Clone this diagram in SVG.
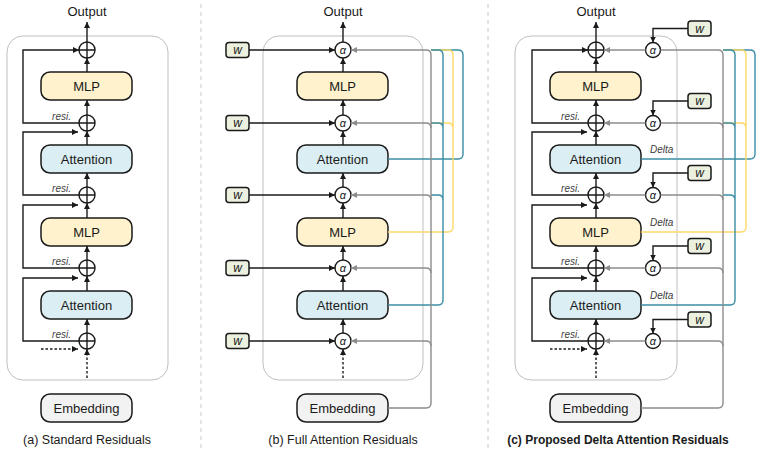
<svg xmlns="http://www.w3.org/2000/svg" width="763" height="454" viewBox="0 0 763 454">
<style>
text{font-family:"Liberation Sans",Arial,sans-serif;fill:#1a1a1a}
.lbl{font-size:13px;text-anchor:middle}
.cap{font-size:12.5px;text-anchor:middle}
.capb{font-size:12px;font-weight:bold;text-anchor:middle}
.it{font-size:10px;font-style:italic;fill:#404040}
.itr{font-size:10px;font-style:italic;fill:#404040;text-anchor:end}
.al{font-size:11px;font-style:italic;text-anchor:middle}
.wt{font-size:12px;font-style:italic;text-anchor:middle}
.frame{fill:none;stroke:#bfbfbf;stroke-width:1}
.mlp{fill:#fff2cc;stroke:#1a1a1a;stroke-width:1.5}
.att{fill:#daeef3;stroke:#1a1a1a;stroke-width:1.5}
.emb{fill:#f2f2f2;stroke:#1a1a1a;stroke-width:1.5}
.wb{fill:#ebf1de;stroke:#1a1a1a;stroke-width:1.5}
.node{fill:#fff;stroke:#1a1a1a;stroke-width:1.4}
.blk{fill:none;stroke:#1a1a1a;stroke-width:1.4}
.dash{fill:none;stroke:#1a1a1a;stroke-width:1.4;stroke-dasharray:2.5 2}
.gry{fill:none;stroke:#8c8c8c;stroke-width:1.4}
.teal{fill:none;stroke:#3a8ea5;stroke-width:1.4}
.yel{fill:none;stroke:#ffd966;stroke-width:1.4}
.div{stroke:#c8c8c8;stroke-width:1;stroke-dasharray:4 4}
</style>
<defs>
<marker id="ab" markerUnits="userSpaceOnUse" markerWidth="7" markerHeight="7" refX="6" refY="3" orient="auto"><path d="M0,0 L6,3 L0,6 z" fill="#1a1a1a"/></marker>
<marker id="ag" markerUnits="userSpaceOnUse" markerWidth="7" markerHeight="7" refX="6" refY="3" orient="auto"><path d="M0,0 L6,3 L0,6 z" fill="#8c8c8c"/></marker>
</defs>

<line class="div" x1="201" y1="4" x2="201" y2="450"/>
<line class="div" x1="488" y1="4" x2="488" y2="450"/>

<!-- ===== Panel (a) ===== -->
<rect class="frame" x="7" y="36" width="161" height="344" rx="16"/>
<text class="lbl" x="87" y="16">Output</text>
<g id="a-mlp1"><rect class="mlp" x="41" y="72" width="91" height="28" rx="9"/><text class="lbl" x="86.5" y="90.5">MLP</text></g>
<g id="a-att1"><rect class="att" x="41" y="145" width="91" height="28" rx="9"/><text class="lbl" x="86.5" y="163.5">Attention</text></g>
<g id="a-mlp2"><rect class="mlp" x="41" y="218" width="91" height="28" rx="9"/><text class="lbl" x="86.5" y="236.5">MLP</text></g>
<g id="a-att2"><rect class="att" x="41" y="291" width="91" height="28" rx="9"/><text class="lbl" x="86.5" y="309.5">Attention</text></g>
<g id="a-emb"><rect class="emb" x="41" y="394" width="91" height="28" rx="9"/><text class="lbl" x="86.5" y="412.5">Embedding</text></g>
<g id="a-add1"><circle class="node" cx="87" cy="50" r="8"/><path class="blk" d="M79,50 H95 M87,42 V58"/></g>
<g id="a-add2"><circle class="node" cx="87" cy="123" r="8"/><path class="blk" d="M79,123 H95 M87,115 V131"/></g>
<g id="a-add3"><circle class="node" cx="87" cy="195" r="8"/><path class="blk" d="M79,195 H95 M87,187 V203"/></g>
<g id="a-add4"><circle class="node" cx="87" cy="268" r="8"/><path class="blk" d="M79,268 H95 M87,260 V276"/></g>
<g id="a-add5"><circle class="node" cx="87" cy="341" r="8"/><path class="blk" d="M79,341 H95 M87,333 V349"/></g>
<g id="a-connectors">
<path class="blk" marker-end="url(#ab)" d="M87,42 V22"/>
<path class="blk" marker-end="url(#ab)" d="M87,72 V58"/>
<path class="blk" marker-end="url(#ab)" d="M87,115 V100"/>
<path class="blk" marker-end="url(#ab)" d="M87,145 V131"/>
<path class="blk" marker-end="url(#ab)" d="M87,187 V173"/>
<path class="blk" marker-end="url(#ab)" d="M87,218 V203"/>
<path class="blk" marker-end="url(#ab)" d="M87,260 V246"/>
<path class="blk" marker-end="url(#ab)" d="M87,291 V276"/>
<path class="blk" marker-end="url(#ab)" d="M87,333 V319"/>
<path class="dash" marker-end="url(#ab)" d="M87,378 V349"/>
<path class="dash" marker-end="url(#ab)" d="M41,349 H78"/>
<path class="blk" marker-end="url(#ab)" d="M79,123 H23 V50 H79"/>
<path class="blk" marker-end="url(#ab)" d="M79,195 H23 V132 H78"/>
<path class="blk" marker-end="url(#ab)" d="M79,268 H23 V205 H78"/>
<path class="blk" marker-end="url(#ab)" d="M79,341 H23 V278 H78"/>
<text class="itr" x="71" y="120">resi.</text>
<text class="itr" x="71" y="192">resi.</text>
<text class="itr" x="71" y="265">resi.</text>
<text class="itr" x="71" y="338">resi.</text>
</g>
<text class="cap" x="87" y="444">(a) Standard Residuals</text>

<!-- ===== Panel (b) ===== -->
<rect class="frame" x="263" y="36" width="160" height="344" rx="16"/>
<text class="lbl" x="343" y="16">Output</text>
<g id="b-mlp1"><rect class="mlp" x="297" y="72" width="91" height="28" rx="9"/><text class="lbl" x="342.5" y="90.5">MLP</text></g>
<g id="b-att1"><rect class="att" x="297" y="145" width="91" height="28" rx="9"/><text class="lbl" x="342.5" y="163.5">Attention</text></g>
<g id="b-mlp2"><rect class="mlp" x="297" y="218" width="91" height="28" rx="9"/><text class="lbl" x="342.5" y="236.5">MLP</text></g>
<g id="b-att2"><rect class="att" x="297" y="291" width="91" height="28" rx="9"/><text class="lbl" x="342.5" y="309.5">Attention</text></g>
<g id="b-emb"><rect class="emb" x="297" y="394" width="91" height="28" rx="9"/><text class="lbl" x="342.5" y="412.5">Embedding</text></g>
<g id="b-alpha1"><circle class="node" cx="343" cy="50" r="8"/><text class="al" x="343" y="54">α</text></g>
<g id="b-alpha2"><circle class="node" cx="343" cy="123" r="8"/><text class="al" x="343" y="127">α</text></g>
<g id="b-alpha3"><circle class="node" cx="343" cy="195" r="8"/><text class="al" x="343" y="199">α</text></g>
<g id="b-alpha4"><circle class="node" cx="343" cy="268" r="8"/><text class="al" x="343" y="272">α</text></g>
<g id="b-alpha5"><circle class="node" cx="343" cy="341" r="8"/><text class="al" x="343" y="345">α</text></g>
<g id="b-w1"><rect class="wb" x="226" y="42.5" width="23" height="15" rx="3"/><text class="wt" x="237.5" y="54">w</text></g>
<g id="b-w2"><rect class="wb" x="226" y="115.5" width="23" height="15" rx="3"/><text class="wt" x="237.5" y="127">w</text></g>
<g id="b-w3"><rect class="wb" x="226" y="187.5" width="23" height="15" rx="3"/><text class="wt" x="237.5" y="199">w</text></g>
<g id="b-w4"><rect class="wb" x="226" y="260.5" width="23" height="15" rx="3"/><text class="wt" x="237.5" y="272">w</text></g>
<g id="b-w5"><rect class="wb" x="226" y="333.5" width="23" height="15" rx="3"/><text class="wt" x="237.5" y="345">w</text></g>
<g id="b-connectors">
<path class="blk" marker-end="url(#ab)" d="M343,42 V22"/>
<path class="blk" marker-end="url(#ab)" d="M343,72 V58"/>
<path class="blk" marker-end="url(#ab)" d="M343,115 V100"/>
<path class="blk" marker-end="url(#ab)" d="M343,145 V131"/>
<path class="blk" marker-end="url(#ab)" d="M343,187 V173"/>
<path class="blk" marker-end="url(#ab)" d="M343,218 V203"/>
<path class="blk" marker-end="url(#ab)" d="M343,260 V246"/>
<path class="blk" marker-end="url(#ab)" d="M343,291 V276"/>
<path class="blk" marker-end="url(#ab)" d="M343,333 V319"/>
<path class="dash" marker-end="url(#ab)" d="M343,378 V349"/>
<path class="blk" marker-end="url(#ab)" d="M249,50 H335"/>
<path class="blk" marker-end="url(#ab)" d="M249,123 H335"/>
<path class="blk" marker-end="url(#ab)" d="M249,195 H335"/>
<path class="blk" marker-end="url(#ab)" d="M249,268 H335"/>
<path class="blk" marker-end="url(#ab)" d="M249,341 H335"/>
<path class="teal" d="M388,159 H458 Q463,159 463,154 V55 Q463,50 458,50 H431"/>
<path class="yel" d="M388,232 H448 Q453,232 453,227 V55 Q453,50 448,50 H431 M453,128 Q453,123 448,123 H431"/>
<path class="teal" d="M388,305 H438 Q443,305 443,300 V55 Q443,50 438,50 H431 M443,128 Q443,123 438,123 H431 M443,200 Q443,195 438,195 H431"/>
<path class="gry" marker-end="url(#ag)" d="M388,408 H426 Q431,408 431,403 V55 Q431,50 426,50 H351"/>
<path class="gry" marker-end="url(#ag)" d="M431,128 Q431,123 426,123 H351"/>
<path class="gry" marker-end="url(#ag)" d="M431,200 Q431,195 426,195 H351"/>
<path class="gry" marker-end="url(#ag)" d="M431,273 Q431,268 426,268 H351"/>
<path class="gry" marker-end="url(#ag)" d="M431,346 Q431,341 426,341 H351"/>
</g>
<text class="cap" x="343" y="444">(b) Full Attention Residuals</text>

<!-- ===== Panel (c) ===== -->
<rect class="frame" x="515" y="36" width="162" height="344" rx="16"/>
<text class="lbl" x="596" y="16">Output</text>
<g id="c-mlp1"><rect class="mlp" x="550" y="72" width="91" height="28" rx="9"/><text class="lbl" x="595.5" y="90.5">MLP</text></g>
<g id="c-att1"><rect class="att" x="550" y="145" width="91" height="28" rx="9"/><text class="lbl" x="595.5" y="163.5">Attention</text></g>
<g id="c-mlp2"><rect class="mlp" x="550" y="218" width="91" height="28" rx="9"/><text class="lbl" x="595.5" y="236.5">MLP</text></g>
<g id="c-att2"><rect class="att" x="550" y="291" width="91" height="28" rx="9"/><text class="lbl" x="595.5" y="309.5">Attention</text></g>
<g id="c-emb"><rect class="emb" x="550" y="394" width="91" height="28" rx="9"/><text class="lbl" x="595.5" y="412.5">Embedding</text></g>
<g id="c-add1"><circle class="node" cx="596" cy="50" r="8"/><path class="blk" d="M588,50 H604 M596,42 V58"/></g>
<g id="c-add2"><circle class="node" cx="596" cy="123" r="8"/><path class="blk" d="M588,123 H604 M596,115 V131"/></g>
<g id="c-add3"><circle class="node" cx="596" cy="195" r="8"/><path class="blk" d="M588,195 H604 M596,187 V203"/></g>
<g id="c-add4"><circle class="node" cx="596" cy="268" r="8"/><path class="blk" d="M588,268 H604 M596,260 V276"/></g>
<g id="c-add5"><circle class="node" cx="596" cy="341" r="8"/><path class="blk" d="M588,341 H604 M596,333 V349"/></g>
<g id="c-alpha1"><circle class="node" cx="653" cy="50" r="7.5"/><text class="al" x="653" y="54">α</text></g>
<g id="c-alpha2"><circle class="node" cx="653" cy="123" r="7.5"/><text class="al" x="653" y="127">α</text></g>
<g id="c-alpha3"><circle class="node" cx="653" cy="195" r="7.5"/><text class="al" x="653" y="199">α</text></g>
<g id="c-alpha4"><circle class="node" cx="653" cy="268" r="7.5"/><text class="al" x="653" y="272">α</text></g>
<g id="c-alpha5"><circle class="node" cx="653" cy="341" r="7.5"/><text class="al" x="653" y="345">α</text></g>
<g id="c-w1"><rect class="wb" x="688" y="21" width="23" height="15" rx="3"/><text class="wt" x="699.5" y="32.5">w</text></g>
<g id="c-w2"><rect class="wb" x="688" y="93.5" width="23" height="15" rx="3"/><text class="wt" x="699.5" y="105">w</text></g>
<g id="c-w3"><rect class="wb" x="688" y="165.5" width="23" height="15" rx="3"/><text class="wt" x="699.5" y="177">w</text></g>
<g id="c-w4"><rect class="wb" x="688" y="238.5" width="23" height="15" rx="3"/><text class="wt" x="699.5" y="250">w</text></g>
<g id="c-w5"><rect class="wb" x="688" y="312" width="23" height="15" rx="3"/><text class="wt" x="699.5" y="323.5">w</text></g>
<g id="c-connectors">
<path class="blk" marker-end="url(#ab)" d="M596,42 V22"/>
<path class="blk" marker-end="url(#ab)" d="M596,72 V58"/>
<path class="blk" marker-end="url(#ab)" d="M596,115 V100"/>
<path class="blk" marker-end="url(#ab)" d="M596,145 V131"/>
<path class="blk" marker-end="url(#ab)" d="M596,187 V173"/>
<path class="blk" marker-end="url(#ab)" d="M596,218 V203"/>
<path class="blk" marker-end="url(#ab)" d="M596,260 V246"/>
<path class="blk" marker-end="url(#ab)" d="M596,291 V276"/>
<path class="blk" marker-end="url(#ab)" d="M596,333 V319"/>
<path class="dash" marker-end="url(#ab)" d="M596,378 V349"/>
<path class="dash" marker-end="url(#ab)" d="M550,349 H587"/>
<path class="blk" marker-end="url(#ab)" d="M588,123 H532 V50 H588"/>
<path class="blk" marker-end="url(#ab)" d="M588,195 H532 V132 H587"/>
<path class="blk" marker-end="url(#ab)" d="M588,268 H532 V205 H587"/>
<path class="blk" marker-end="url(#ab)" d="M588,341 H532 V278 H587"/>
<text class="itr" x="580" y="120">resi.</text>
<text class="itr" x="580" y="192">resi.</text>
<text class="itr" x="580" y="265">resi.</text>
<text class="itr" x="580" y="338">resi.</text>
<path class="blk" marker-end="url(#ab)" d="M688,28.5 H653 V42.5"/>
<path class="blk" marker-end="url(#ab)" d="M688,101 H653 V115.5"/>
<path class="blk" marker-end="url(#ab)" d="M688,173 H653 V187.5"/>
<path class="blk" marker-end="url(#ab)" d="M688,246 H653 V260.5"/>
<path class="blk" marker-end="url(#ab)" d="M688,319.5 H653 V333.5"/>
<path class="gry" marker-end="url(#ag)" d="M645.5,50 H604"/>
<path class="gry" marker-end="url(#ag)" d="M645.5,123 H604"/>
<path class="gry" marker-end="url(#ag)" d="M645.5,195 H604"/>
<path class="gry" marker-end="url(#ag)" d="M645.5,268 H604"/>
<path class="gry" marker-end="url(#ag)" d="M645.5,341 H604"/>
<path class="teal" d="M641,159 H750 Q755,159 755,154 V55 Q755,50 750,50 H723"/>
<path class="yel" d="M641,232 H741 Q746,232 746,227 V55 Q746,50 741,50 H723 M746,128 Q746,123 741,123 H723"/>
<path class="teal" d="M641,305 H730 Q735,305 735,300 V55 Q735,50 730,50 H723 M735,128 Q735,123 730,123 H723 M735,200 Q735,195 730,195 H723"/>
<path class="gry" d="M641,408 H718 Q723,408 723,403 V55 Q723,50 718,50 H660.5"/>
<path class="gry" d="M723,128 Q723,123 718,123 H660.5"/>
<path class="gry" d="M723,200 Q723,195 718,195 H660.5"/>
<path class="gry" d="M723,273 Q723,268 718,268 H660.5"/>
<path class="gry" d="M723,346 Q723,341 718,341 H660.5"/>
<text class="it" x="650" y="153">Delta</text>
<text class="it" x="650" y="226">Delta</text>
<text class="it" x="650" y="299">Delta</text>
</g>
<text class="capb" x="618" y="444">(c) Proposed Delta Attention Residuals</text>
</svg>
